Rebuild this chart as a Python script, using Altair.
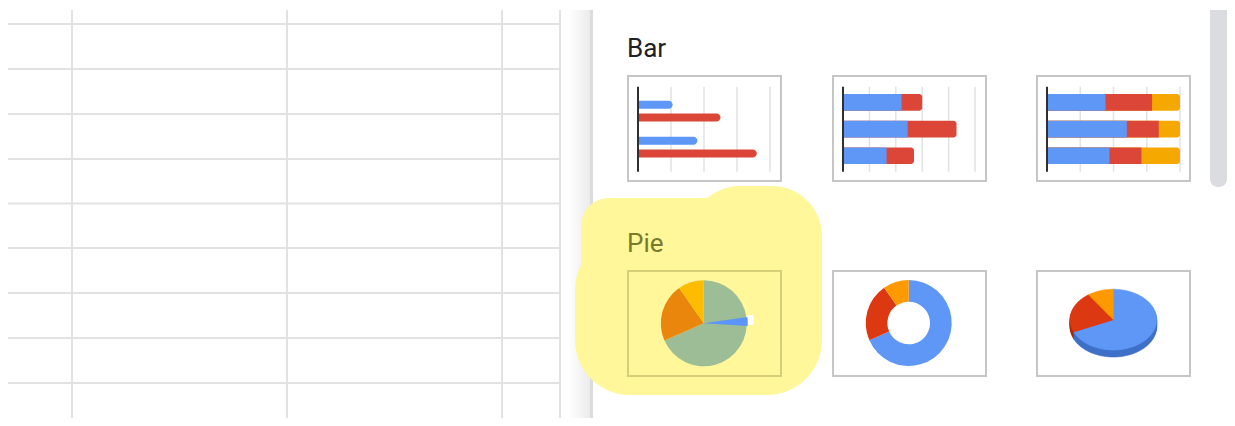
import altair as alt
import numpy as np
import pandas as pd

# ---------------- data ----------------
section_titles = ["Bar", "Pie"]

grouped_cat = ["A", "A", "B", "B"]
grouped_series = ["S1", "S2", "S1", "S2"]
grouped_val = [1.05, 2.5, 1.8, 3.6]
grouped_ticks = [1, 2, 3, 4]

stacked_cat = ["A", "B", "C"]
stacked_s1 = [2.22, 2.45, 1.65]
stacked_s2 = [0.78, 1.85, 1.04]
stacked_ticks = [1, 2, 3, 4, 5]

pct_cat = ["A", "B", "C"]
pct_s1 = [0.44, 0.60, 0.47]
pct_s2 = [0.35, 0.24, 0.24]
pct_s3 = [0.21, 0.16, 0.29]
pct_ticks = [0.25, 0.5, 0.75, 1.0]

pie_labels = ["S1", "S2", "S3"]
pie_values = [68.4, 21.9, 9.7]

# ---------------- layout / style ----------------
OX, OY = 8, 8          # page margin
W, H = 1219, 410
SHEET_GRID = "#e2e2e2"
THUMB_GRID = "#e2e2e2"
AXIS = "#2f2f2f"
BOX = "#c6c6c6"
BLUE, RED, ORANGE = "#5e97f6", "#dc4639", "#f4a800"
P_BLUE, P_RED, P_ORANGE = "#5e97f6", "#dc3912", "#ff9900"
H_GREEN, H_ORANGE, H_AMBER = "#9dbd96", "#e9860b", "#fdbc00"
SIDE_BLUE, SIDE_RED, SIDE_ORANGE = "#3f70c8", "#a52c0c", "#c77700"
YELLOW = "#fff799"


def rect_layer(rows, **mark):
    df = pd.DataFrame(rows, columns=["x", "x2", "y", "y2"]).astype(float)
    df[["x", "x2"]] -= OX
    df[["y", "y2"]] -= OY
    return alt.Chart(df).mark_rect(**mark).encode(
        x=alt.X("x:Q", scale=None, axis=None), x2="x2:Q",
        y=alt.Y("y:Q", scale=None, axis=None), y2="y2:Q")


def hrules(ys, x0, x1, **mark):
    df = pd.DataFrame({"y": [v - OY for v in ys]})
    return alt.Chart(df).mark_rule(**mark).encode(
        y=alt.Y("y:Q", scale=None, axis=None),
        x=alt.value(x0 - OX), x2=alt.value(x1 - OX))


def vrules(xs, y0, y1, **mark):
    df = pd.DataFrame({"x": [v - OX for v in xs]})
    return alt.Chart(df).mark_rule(**mark).encode(
        x=alt.X("x:Q", scale=None, axis=None),
        y=alt.value(y0 - OY), y2=alt.value(y1 - OY))


layers = []

# spreadsheet grid on the left
layers.append(hrules([24, 69, 114, 159, 203.5, 248, 293, 338, 383], 7, 560,
                     color=SHEET_GRID, strokeWidth=2))
layers.append(vrules([72, 287, 502, 560], 10, 426, color=SHEET_GRID, strokeWidth=2))

# side-panel shadow
layers.append(rect_layer([[568, 591, 10, 426]], color=alt.Gradient(
    gradient="linear", x1=0, x2=1, y1=0, y2=0,
    stops=[alt.GradientStop(color="#ffffff", offset=0),
           alt.GradientStop(color="#ebebeb", offset=1)])))
layers.append(rect_layer([[590, 593, 10, 426]], color="#dcdcdc"))

# yellow highlighter blob (union of rounded shapes)
layers.append(rect_layer([[575, 822, 235, 395]], color=YELLOW, cornerRadius=55))
layers.append(rect_layer([[581, 790, 198, 330]], color=YELLOW, cornerRadius=28))
layers.append(rect_layer([[690, 822, 186, 345]], color=YELLOW, cornerRadius=50))

# scrollbar
layers.append(rect_layer([[1210, 1227, 10, 187]], color="#dadce0",
                         cornerRadiusBottomLeft=8, cornerRadiusBottomRight=8))

# thumbnail boxes
box_cols = [(628, 781), (833, 986), (1037, 1190)]
row1 = [[a, b, 76, 181] for a, b in box_cols]
row2 = [[a, b, 271, 376] for a, b in box_cols[1:]]
layers.append(rect_layer(row1 + row2, fillOpacity=0, stroke=BOX, strokeWidth=2))
layers.append(rect_layer([[628, 781, 271, 376]], fillOpacity=0, stroke="#d6ce78", strokeWidth=2))

# section titles
title_df = pd.DataFrame({"t": section_titles})
layers.append(alt.Chart(title_df).transform_filter("datum.t == 'Bar'").mark_text(
    align="left", baseline="alphabetic", fontSize=26, font="Roboto", color="#202124"
).encode(x=alt.value(627 - OX), y=alt.value(56.5 - OY), text="t:N"))
layers.append(alt.Chart(title_df).transform_filter("datum.t == 'Pie'").mark_text(
    align="left", baseline="alphabetic", fontSize=26, font="Roboto", color="#7a7a2c"
).encode(x=alt.value(627 - OX), y=alt.value(251.5 - OY), text="t:N"))

GY0, GY1 = 86.7 - OY, 171.7 - OY


def thumb_grid(ticks, xs):
    return alt.Chart(pd.DataFrame({"t": ticks})).mark_rule(
        color=THUMB_GRID, strokeWidth=1.5).encode(
        x=alt.X("t:Q", scale=xs, axis=None), y=alt.value(GY0), y2=alt.value(GY1))


def thumb_axis(xs):
    return alt.Chart(pd.DataFrame({"t": [0]})).mark_rule(
        color=AXIS, strokeWidth=2).encode(
        x=alt.X("t:Q", scale=xs, axis=None), y=alt.value(GY0), y2=alt.value(GY1))


# ---- thumbnail 1: grouped bars ----
xs1 = alt.Scale(domain=[0, 4], range=[638 - OX, 770 - OX], nice=False)
ys1 = alt.Scale(range=[100.7 - OY, 157.5 - OY], paddingInner=0.4222, paddingOuter=0)
g_df = pd.DataFrame({"cat": grouped_cat, "series": grouped_series, "value": grouped_val})
bars1 = alt.Chart(g_df).mark_bar(cornerRadiusEnd=4).encode(
    x=alt.X("value:Q", scale=xs1, axis=None, stack=None),
    y=alt.Y("cat:N", scale=ys1, axis=None),
    yOffset=alt.YOffset("series:N", scale=alt.Scale(paddingInner=0.375, paddingOuter=0)),
    color=alt.Color("series:N", scale=alt.Scale(domain=["S1", "S2"], range=[BLUE, RED]),
                    legend=None))
layers.append(alt.layer(thumb_grid(grouped_ticks, xs1), bars1, thumb_axis(xs1)))

# ---- thumbnail 2: stacked bars ----
xs2 = alt.Scale(domain=[0, 5], range=[843 - OX, 975 - OX], nice=False)
ys23 = alt.Scale(range=[94 - OY, 164.1 - OY], paddingInner=0.375, paddingOuter=0)
s_df = pd.DataFrame({"cat": stacked_cat, "s1": stacked_s1, "s2": stacked_s2})
base2 = alt.Chart(s_df).transform_calculate(total="datum.s1 + datum.s2")
red2 = base2.mark_bar(color=RED, cornerRadiusEnd=3).encode(
    x=alt.X("total:Q", scale=xs2, axis=None, stack=None), y=alt.Y("cat:N", scale=ys23, axis=None))
blue2 = base2.mark_bar(color=BLUE).encode(
    x=alt.X("s1:Q", scale=xs2, axis=None, stack=None), y=alt.Y("cat:N", scale=ys23, axis=None))
layers.append(alt.layer(thumb_grid(stacked_ticks, xs2), red2, blue2, thumb_axis(xs2)))

# ---- thumbnail 3: 100% stacked bars ----
xs3 = alt.Scale(domain=[0, 1], range=[1047 - OX, 1180 - OX], nice=False)
p_df = pd.DataFrame({"cat": pct_cat, "s1": pct_s1, "s2": pct_s2, "s3": pct_s3})
base3 = alt.Chart(p_df).transform_calculate(
    tot="datum.s1 + datum.s2 + datum.s3").transform_calculate(
    c1="datum.s1 / datum.tot", c2="(datum.s1 + datum.s2) / datum.tot", c3="1")
or3 = base3.mark_bar(color=ORANGE, cornerRadiusEnd=3).encode(
    x=alt.X("c3:Q", scale=xs3, axis=None, stack=None), y=alt.Y("cat:N", scale=ys23, axis=None))
red3 = base3.mark_bar(color=RED).encode(
    x=alt.X("c2:Q", scale=xs3, axis=None, stack=None), y=alt.Y("cat:N", scale=ys23, axis=None))
blue3 = base3.mark_bar(color=BLUE).encode(
    x=alt.X("c1:Q", scale=xs3, axis=None, stack=None), y=alt.Y("cat:N", scale=ys23, axis=None))
layers.append(alt.layer(thumb_grid(pct_ticks, xs3), or3, red3, blue3, thumb_axis(xs3)))

# ---- pies ----
pie_df = pd.DataFrame({"label": pie_labels, "value": pie_values, "k": list(range(len(pie_labels)))})


def pie(cx, cy, colors, **mark):
    return alt.Chart(pie_df).mark_arc(**mark).encode(
        theta=alt.Theta("value:Q", stack=True),
        order=alt.Order("k:Q"),
        color=alt.Color("label:N", scale=alt.Scale(domain=pie_labels, range=colors), legend=None),
        x=alt.value(cx - OX), y=alt.value(cy - OY))


# highlighted pie
layers.append(pie(703.8, 323.3, [H_GREEN, H_ORANGE, H_AMBER], radius=43))
one = pd.DataFrame({"a": [0]})
layers.append(alt.Chart(one).mark_arc(theta=1.40, theta2=1.60, radius=50, innerRadius=43,
                                      color="#ffffff").encode(
    x=alt.value(703.8 - OX), y=alt.value(323.3 - OY)))
layers.append(alt.Chart(one).mark_arc(theta=1.43, theta2=1.63, radius=44,
                                      color="#5b95f9").encode(
    x=alt.value(703.8 - OX), y=alt.value(323.3 - OY)))

# donut
layers.append(pie(908.7, 323, [P_BLUE, P_RED, P_ORANGE], radius=43, innerRadius=21.3))

# 3D pie (ellipse built from the slice angles, mapped through x/y scales)
vals = np.array(pie_values, dtype=float)
cum = np.concatenate([[0.0], np.cumsum(vals)]) / vals.sum() * 2 * np.pi
rows = []
for i, lab in enumerate(pie_labels):
    a0, a1 = cum[i], cum[i + 1]
    n = max(2, int(np.ceil((a1 - a0) / 0.04)))
    rows.append({"label": lab, "k": 0, "u": 0.0, "v": 0.0})
    for j, a in enumerate(np.linspace(a0, a1, n + 1)):
        rows.append({"label": lab, "k": j + 1, "u": float(np.sin(a)), "v": float(np.cos(a))})
    rows.append({"label": lab, "k": n + 2, "u": 0.0, "v": 0.0})
geo_df = pd.DataFrame(rows)
xs3d = alt.Scale(domain=[-1, 1], range=[1070 - OX, 1156.7 - OX], nice=False, zero=False)
ys3d = alt.Scale(domain=[-1, 1], range=[350 - OY, 289.3 - OY], nice=False, zero=False)


def wedge(lab, col, dy=0):
    return alt.Chart(geo_df).transform_filter(f"datum.label == '{lab}'").mark_line(
        fill=col, stroke=col, strokeWidth=0.6, yOffset=dy).encode(
        x=alt.X("u:Q", scale=xs3d, axis=None),
        y=alt.Y("v:Q", scale=ys3d, axis=None),
        order=alt.Order("k:Q"))


side_cols = [SIDE_BLUE, SIDE_RED, SIDE_ORANGE]
top_cols = [P_BLUE, P_RED, P_ORANGE]
pie3d_layers = []
for dy in [7, 6, 5, 4, 3, 2, 1]:
    for lab, col in zip(pie_labels, side_cols):
        pie3d_layers.append(wedge(lab, col, dy))
for lab, col in zip(pie_labels, top_cols):
    pie3d_layers.append(wedge(lab, col, 0))
layers.append(alt.layer(*pie3d_layers))

chart = alt.layer(*layers).properties(
    width=W, height=H, padding=0,
    autosize=alt.AutoSizeParams(type="none"),
    background="white",
).resolve_scale(
    x="independent", y="independent", color="independent", theta="independent"
).configure_view(stroke=None)

chart.save("out.html", embed_options={"renderer": "svg", "actions": False})
